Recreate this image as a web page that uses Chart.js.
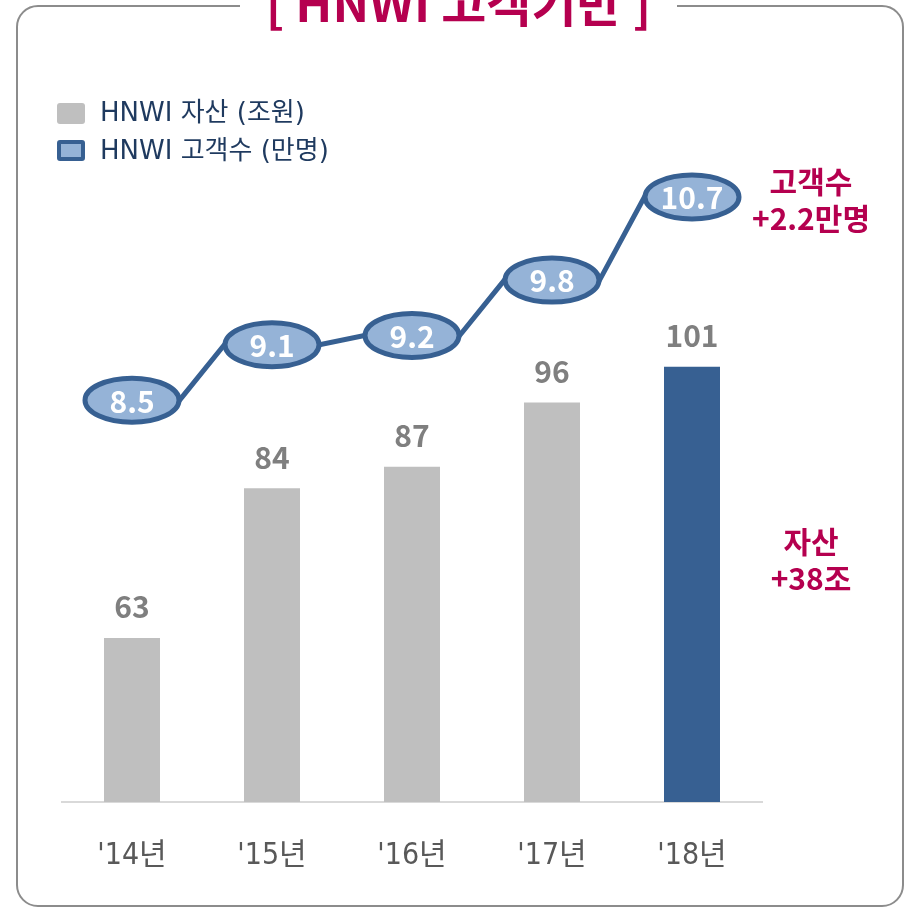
<!DOCTYPE html>
<html>
<head>
<meta charset="utf-8">
<script src="https://cdn.jsdelivr.net/npm/chart.js@4/dist/chart.umd.min.js"></script>
<style>
  html, body { margin: 0; padding: 0; background: #fff; }
  body { width: 908px; height: 910px; position: relative; overflow: hidden; font-family: 'Noto Sans CJK KR', 'Noto Sans', sans-serif; }
  #frame { position: absolute; left: 16px; top: 5px; width: 884px; height: 898px; border: 2px solid #8c8c8c; border-radius: 22px; }
  #title { position: absolute; left: 240px; width: 437px; top: -24px; height: 52px; background: #fff; text-align: center;
           color: #b5004f; font-weight: bold; font-size: 49px; line-height: 49px; white-space: nowrap; }
  .legend { position: absolute; left: 57px; font-size: 26px; color: #1f3a5f; line-height: 28px;
            font-family: 'DejaVu Sans', 'Noto Sans CJK KR', sans-serif; }
  .legend i { position: absolute; left: 0; width: 28px; height: 21px; border-radius: 3px; box-sizing: border-box; }
  .legend span { position: absolute; left: 43px; white-space: nowrap; }
  .note { position: absolute; width: 160px; text-align: center; color: #b5004f; font-weight: bold; font-size: 30px; line-height: 37px; }
  #chartBox { position: absolute; left: 0; top: 0; width: 908px; height: 910px; }
</style>
</head>
<body>
<div id="chartBox"><canvas id="chart" width="908" height="910"></canvas></div>
<div id="frame"></div>
<div id="title">[ HNWI 고객기반 ]</div>
<div class="legend" style="top:98px"><i style="top:5px;background:#bfbfbf"></i><span style="top:0">HNWI 자산 (조원)</span></div>
<div class="legend" style="top:136px"><i style="top:4px;background:#95b3d7;border:4px solid #376092"></i><span style="top:0">HNWI 고객수 (만명)</span></div>
<div class="note" style="left:731px;top:162px">고객수<br>+2.2만명</div>
<div class="note" style="left:731px;top:522px">자산<br>+38조</div>
<script>
const years = ["'14년", "'15년", "'16년", "'17년", "'18년"];
const assets = [63, 84, 87, 96, 101];       // 조원
const customers = [8.5, 9.1, 9.2, 9.8, 10.7]; // 만명
const barColors = ['#bfbfbf', '#bfbfbf', '#bfbfbf', '#bfbfbf', '#376092'];

// 라인은 타원 좌우 끝을 잇도록 카테고리마다 두 점
const linePoints = customers.flatMap((v, i) => [{ x: i - 0.34, y: v }, { x: i + 0.34, y: v }]);

const labelPlugin = {
    id: 'labelPlugin',
    afterDatasetsDraw(chart) {
        const ctx = chart.ctx;
        const barMeta = chart.getDatasetMeta(0);
        ctx.save();
        ctx.textAlign = 'center';
        ctx.textBaseline = 'middle';
        ctx.font = "bold 30px 'Noto Sans CJK KR'";
        ctx.fillStyle = '#7f7f7f';
        barMeta.data.forEach((bar, i) => {
            ctx.fillText(String(assets[i]), bar.x, bar.y - 31);
        });

        const xs = chart.scales.x;
        const ys = chart.scales.y2;
        customers.forEach((v, i) => {
            const cx = xs.getPixelForValue(i);
            const cy = ys.getPixelForValue(v);
            ctx.beginPath();
            ctx.ellipse(cx, cy, 47, 22, 0, 0, Math.PI * 2);
            ctx.fillStyle = '#95b3d7';
            ctx.fill();
            ctx.lineWidth = 5;
            ctx.strokeStyle = '#376092';
            ctx.stroke();
            ctx.fillStyle = '#ffffff';
            ctx.font = "bold 30px 'Noto Sans CJK KR'";
            ctx.fillText(v.toFixed(1), cx, cy + 1);
        });
        ctx.restore();
    }
};

new Chart(document.getElementById('chart'), {
    data: {
        labels: years,
        datasets: [
            {
                type: 'bar',
                label: 'HNWI 자산 (조원)',
                data: assets,
                backgroundColor: barColors,
                barPercentage: 0.4,
                categoryPercentage: 1,
                grouped: false,
                yAxisID: 'y',
                order: 2
            },
            {
                type: 'line',
                label: 'HNWI 고객수 (만명)',
                data: linePoints,
                xAxisID: 'xl',
                yAxisID: 'y2',
                borderColor: '#376092',
                borderWidth: 5,
                pointRadius: 0,
                tension: 0,
                order: 1
            }
        ]
    },
    options: {
        responsive: false,
        animation: false,
        layout: { padding: { left: 62, right: 146, top: 160, bottom: 0 } },
        plugins: { legend: { display: false }, tooltip: { enabled: false } },
        scales: {
            x: {
                type: 'category',
                offset: true,
                grid: { display: false, drawTicks: false },
                border: { display: true, color: '#d9d9d9', width: 2 },
                ticks: {
                    color: '#595959',
                    font: { size: 30, family: "'DejaVu Sans Condensed', 'DejaVu Sans', 'Noto Sans CJK KR'" },
                    padding: 36
                }
            },
            xl: { type: 'linear', min: -0.5, max: 4.5, display: false },
            y: { type: 'linear', min: 40, max: 130, display: false },
            y2: { type: 'linear', min: 4.15, max: 11.1, display: false }
        }
    },
    plugins: [labelPlugin]
});
</script>
</body>
</html>
